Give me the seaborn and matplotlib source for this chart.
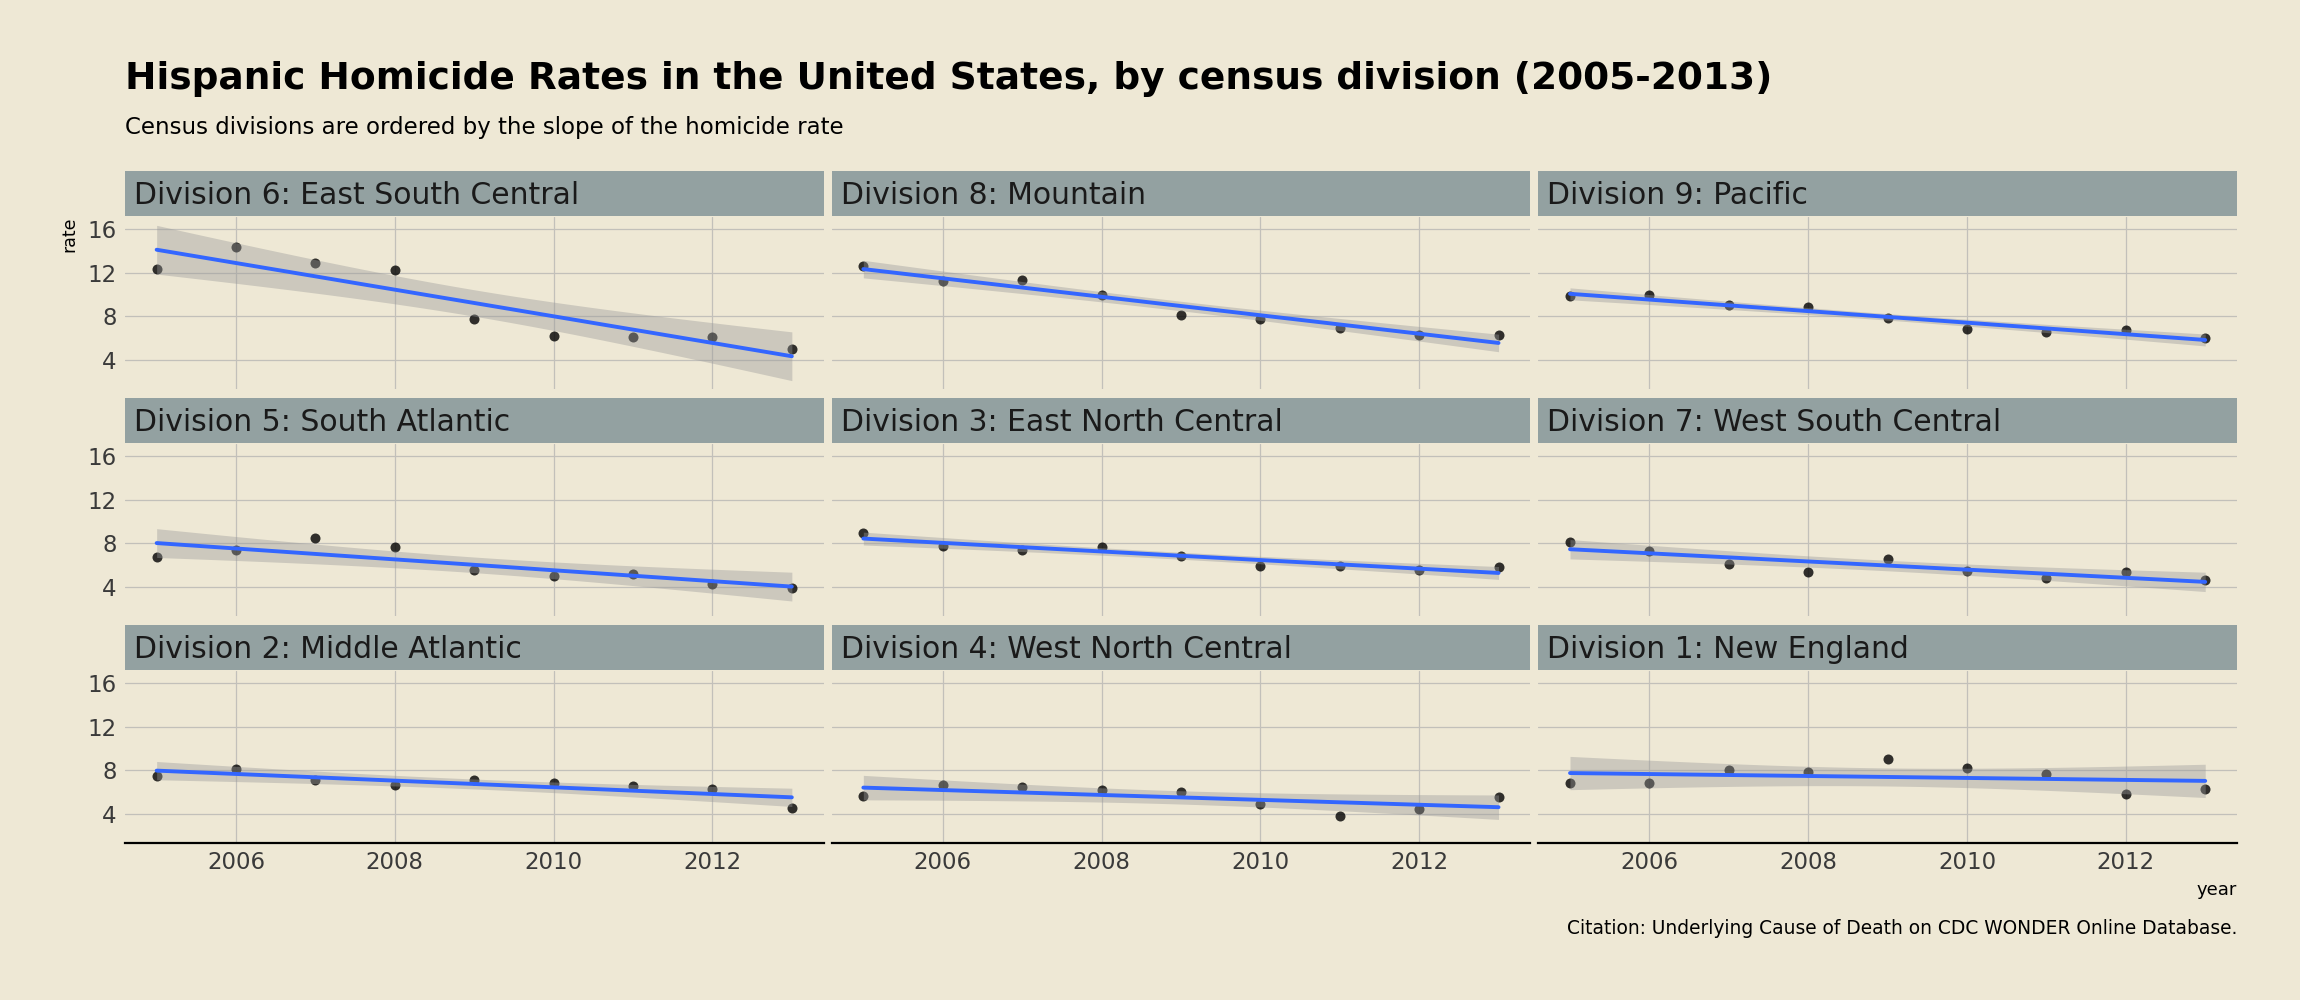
import numpy as np
import pandas as pd
import matplotlib
matplotlib.use("Agg")
import matplotlib.pyplot as plt
import seaborn as sns
from matplotlib.patches import Rectangle

# Data (rate per 100k, 2005-2013)
YEARS = list(range(2005, 2014))
DIVISIONS = [
    "Division 6: East South Central",
    "Division 8: Mountain",
    "Division 9: Pacific",
    "Division 5: South Atlantic",
    "Division 3: East North Central",
    "Division 7: West South Central",
    "Division 2: Middle Atlantic",
    "Division 4: West North Central",
    "Division 1: New England",
]
east_south_central = [12.3, 14.3, 12.9, 12.2, 7.7, 6.2, 6.1, 6.1, 5.0]
mountain = [12.6, 11.2, 11.3, 9.9, 8.1, 7.7, 6.9, 6.3, 6.3]
pacific = [9.8, 9.9, 9.0, 8.8, 7.8, 6.8, 6.5, 6.7, 6.0]
south_atlantic = [6.7, 7.4, 8.5, 7.6, 5.5, 5.0, 5.2, 4.2, 3.9]
east_north_central = [8.9, 7.7, 7.4, 7.6, 6.8, 5.9, 5.9, 5.5, 5.8]
west_south_central = [8.1, 7.3, 6.1, 5.3, 6.5, 5.4, 4.8, 5.3, 4.6]
middle_atlantic = [7.5, 8.1, 7.1, 6.6, 7.1, 6.8, 6.5, 6.3, 4.5]
west_north_central = [5.6, 6.6, 6.4, 6.2, 6.0, 4.9, 3.8, 4.4, 5.5]
new_england = [6.8, 6.8, 8.0, 7.8, 9.0, 8.2, 7.6, 5.8, 6.3]
RATES = [
    east_south_central, mountain, pacific,
    south_atlantic, east_north_central, west_south_central,
    middle_atlantic, west_north_central, new_england,
]
Y_TICKS = [4, 8, 12, 16]
X_TICKS = [2006, 2008, 2010, 2012]

BG = "#eee8d5"
STRIP = "#93a1a1"
GRID = "#c2c0ba"
T_975_DF7 = 2.365


def build_frame() -> pd.DataFrame:
    rows = []
    for name, vals in zip(DIVISIONS, RATES):
        for yr, v in zip(YEARS, vals):
            rows.append({"division": name, "year": yr, "rate": v})
    return pd.DataFrame(rows)


# t-based 95% band around the linear fit, like geom_smooth(method="lm")
def confidence_band(x, y, grid):
    x = np.asarray(x, float)
    y = np.asarray(y, float)
    slope, icpt = np.polyfit(x, y, 1)
    resid = y - (slope * x + icpt)
    n = len(x)
    s = np.sqrt(np.sum(resid ** 2) / (n - 2))
    sxx = np.sum((x - x.mean()) ** 2)
    se = s * np.sqrt(1.0 / n + (grid - x.mean()) ** 2 / sxx)
    fit = slope * grid + icpt
    return fit - T_975_DF7 * se, fit + T_975_DF7 * se


def main():
    sns.set_theme(style="white")
    plt.rcParams["font.family"] = ["DejaVu Sans"]

    df = build_frame()
    fig, axes = plt.subplots(3, 3, figsize=(23, 10), dpi=100, sharex=True, sharey=True)
    fig.patch.set_facecolor(BG)
    fig.subplots_adjust(left=0.0543, right=0.9726, top=0.783, bottom=0.157,
                        hspace=0.32, wspace=0.0114)

    for ax, name in zip(axes.flat, DIVISIONS):
        sub = df[df["division"] == name]
        ax.set_facecolor(BG)
        ax.grid(True, color=GRID, linewidth=0.9)
        ax.set_axisbelow(True)
        sns.regplot(data=sub, x="year", y="rate", ax=ax, ci=None, truncate=True,
                    scatter_kws={"color": "black", "s": 52, "linewidths": 0, "zorder": 2},
                    line_kws={"color": "#3366FF", "linewidth": 2.8, "zorder": 4})
        grid_x = np.linspace(min(YEARS), max(YEARS), 200)
        lo, hi = confidence_band(sub["year"], sub["rate"], grid_x)
        ax.fill_between(grid_x, lo, hi, color="#999999", alpha=0.4, linewidth=0, zorder=3)

        ax.set_xlim(2004.6, 2013.4)
        ax.set_ylim(1.3, 17.1)
        ax.set_xticks(X_TICKS)
        ax.set_yticks(Y_TICKS)
        ax.set_xlabel("")
        ax.set_ylabel("")
        ax.tick_params(length=0, labelsize=16.5, colors="#3a3a3a", pad=6)
        for side in ["top", "left", "right", "bottom"]:
            ax.spines[side].set_visible(False)

        # facet strip
        ax.add_patch(Rectangle((0, 1.006), 1, 0.262, transform=ax.transAxes,
                               facecolor=STRIP, edgecolor="none", clip_on=False))
        ax.text(0.013, 1.125, name, transform=ax.transAxes, ha="left", va="center",
                fontsize=21.5, color="#1a1a1a")

    for ax in axes[-1]:
        ax.spines["bottom"].set_visible(True)
        ax.spines["bottom"].set_color("black")
        ax.spines["bottom"].set_linewidth(1.6)

    fig.text(0.0543, 0.911, "Hispanic Homicide Rates in the United States, by census division (2005-2013)",
             fontsize=27, fontweight="bold", ha="left", va="baseline", color="black")
    fig.text(0.0543, 0.866, "Census divisions are ordered by the slope of the homicide rate",
             fontsize=16.5, ha="left", va="baseline", color="black")
    fig.text(0.030, 0.783, "rate", rotation=90, ha="center", va="top", fontsize=12.5, color="black")
    fig.text(0.9726, 0.110, "year", ha="right", va="center", fontsize=13, color="black")
    fig.text(0.9726, 0.072, "Citation: Underlying Cause of Death on CDC WONDER Online Database.",
             ha="right", va="center", fontsize=13.4, color="black")

    fig.savefig("out.png", dpi=100, facecolor=BG)


if __name__ == "__main__":
    main()
